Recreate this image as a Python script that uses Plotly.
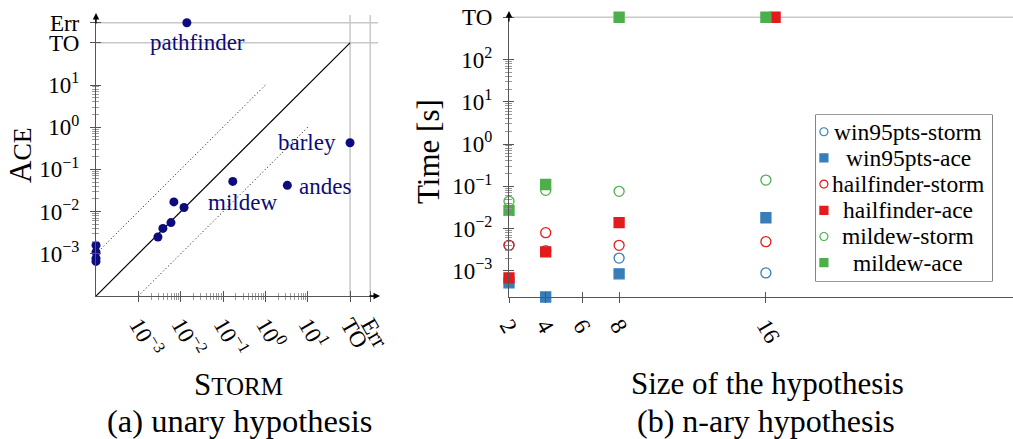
import math
import plotly.graph_objects as go

W, H = 1013, 439
FONT = "Liberation Serif"

# ---------------- (a) unary hypothesis ----------------
TO_A = 100.0     # time-out position on both axes
ERR_A = 300.0    # error position on both axes
unary_names = ["", "", "", "", "", "", "", "", "", "mildew", "andes", "barley", "pathfinder"]
unary_storm = [1e-4, 1e-4, 1e-4, 1e-4, 0.0029, 0.0038, 0.0059, 0.0069, 0.012, 0.17, 3.3, TO_A, 0.014]
unary_ace = [0.0016, 0.0011, 0.00078, 0.00066, 0.0025, 0.0040, 0.0055, 0.017, 0.0125, 0.052, 0.042, 0.43, ERR_A]
diag_x = [1e-4, TO_A]
diag_y = [1e-4, TO_A]
upper_x = [1e-4, 1e0]
upper_y = [1e-3, 1e1]
lower_x = [1e-3, 1e1]
lower_y = [1e-4, 1e0]
a_tickvals = [1e-3, 1e-2, 1e-1, 1e0, 1e1, TO_A, ERR_A]
a_ticktext = ["10<sup>−3</sup>", "10<sup>−2</sup>", "10<sup>−1</sup>", "10<sup>0</sup>",
              "10<sup>1</sup>", "TO", "Err"]

# ---------------- (b) n-ary hypothesis ----------------
TO_B = 1000.0
series_names = ["win95pts-storm", "win95pts-ace", "hailfinder-storm",
                "hailfinder-ace", "mildew-storm", "mildew-ace"]
win95pts_storm_x = [2, 4, 8, 16]
win95pts_storm_y = [0.004, 0.003, 0.002, 0.00089]
win95pts_ace_x = [2, 4, 8, 16]
win95pts_ace_y = [0.00052, 0.00024, 0.00085, 0.018]
hailfinder_storm_x = [2, 4, 8, 16]
hailfinder_storm_y = [0.004, 0.008, 0.004, 0.0049]
hailfinder_ace_x = [2, 4, 8, 16.5]
hailfinder_ace_y = [0.00068, 0.0028, 0.0138, TO_B]
mildew_storm_x = [2, 4, 8, 16]
mildew_storm_y = [0.044, 0.08, 0.076, 0.14]
mildew_ace_x = [2, 4, 8, 16]
mildew_ace_y = [0.027, 0.11, TO_B, TO_B]
b_xticks = [2, 4, 6, 8, 16]
b_tickvals = [1e-3, 1e-2, 1e-1, 1e0, 1e1, 1e2, TO_B]
b_ticktext = ["10<sup>−3</sup>", "10<sup>−2</sup>", "10<sup>−1</sup>", "10<sup>0</sup>",
              "10<sup>1</sup>", "10<sup>2</sup>", "TO"]

# ---------------- styles ----------------
NAVY = "#0c0c7e"
BLUE, RED, GREEN = "#377eb8", "#e41a1c", "#4daf4a"
AXC = "#555555"
MINC = "#9a9a9a"
GRIDC = "#c8c8c8"


def px_x(p):
    return p / W


def px_y(p):
    return 1 - p / H


def minor_vals(lo, hi):
    out = []
    for k in range(lo, hi):
        for m in range(2, 10):
            out.append(m * 10 ** k)
    return out


fig = go.Figure()

# (a) reference lines
fig.add_trace(go.Scatter(x=diag_x, y=diag_y, mode="lines", line=dict(color="black", width=1.2),
                         xaxis="x", yaxis="y", showlegend=False, hoverinfo="skip"))
for lx, ly in ((upper_x, upper_y), (lower_x, lower_y)):
    fig.add_trace(go.Scatter(x=lx, y=ly, mode="lines",
                             line=dict(color="black", width=1, dash="1px,2.5px"),
                             xaxis="x", yaxis="y", showlegend=False, hoverinfo="skip"))
fig.add_trace(go.Scatter(x=unary_storm, y=unary_ace, mode="markers",
                         marker=dict(color=NAVY, size=9), xaxis="x", yaxis="y",
                         showlegend=False, cliponaxis=False))

# (b) series
b_series = [
    (win95pts_storm_x, win95pts_storm_y, BLUE, "circle-open"),
    (win95pts_ace_x, win95pts_ace_y, BLUE, "square"),
    (hailfinder_storm_x, hailfinder_storm_y, RED, "circle-open"),
    (hailfinder_ace_x, hailfinder_ace_y, RED, "square"),
    (mildew_storm_x, mildew_storm_y, GREEN, "circle-open"),
    (mildew_ace_x, mildew_ace_y, GREEN, "square"),
]
for name, (sx, sy, col, sym) in zip(series_names, b_series):
    fig.add_trace(go.Scatter(x=sx, y=sy, mode="markers", name=name,
                             marker=dict(color=col, symbol=sym, size=10,
                                         line=dict(color=col, width=1.3)),
                             xaxis="x2", yaxis="y2", cliponaxis=False, showlegend=False))

# dummy traces for tick-crossing overlay axes
fig.add_trace(go.Scatter(x=[], y=[], xaxis="x3", yaxis="y3", showlegend=False))
fig.add_trace(go.Scatter(x=[], y=[], xaxis="x4", yaxis="y4", showlegend=False))

# custom legend (centered labels, as in the reference)
leg_idx = list(range(len(series_names)))
for i, (name, (_, _, col, sym)) in enumerate(zip(series_names, b_series)):
    fig.add_trace(go.Scatter(x=[0.045], y=[leg_idx[i]], mode="markers",
                             marker=dict(color=col, symbol=sym, size=8,
                                         line=dict(color=col, width=1.2)),
                             xaxis="x5", yaxis="y5", showlegend=False, hoverinfo="skip",
                             cliponaxis=False))
    fig.add_annotation(x=0.525, y=leg_idx[i], xref="x5", yref="y5", text=name, showarrow=False,
                       xanchor="center", yanchor="middle",
                       font=dict(family=FONT, size=23.5, color="black"))

A_XDOM = [px_x(96), px_x(378)]
A_YDOM = [px_y(296), px_y(15)]
B_XDOM = [px_x(509), 1.0]
B_YDOM = [px_y(297), px_y(13)]
A_RANGE = [-4, 2.66]
B_YRANGE = [-3.62, 3.1]
B_XRANGE = [2, 2 + 504 / 18.35]

tickfont = dict(family=FONT, size=23, color="black")

common = dict(showgrid=False, zeroline=False, automargin=False)

layout = dict(
    template="none",
    width=W, height=H, margin=dict(l=0, r=0, t=0, b=0, pad=0),
    paper_bgcolor="white", plot_bgcolor="white",
    font=dict(family=FONT, color="black"),
    showlegend=False,
    xaxis=dict(domain=A_XDOM, anchor="y", type="log", range=A_RANGE, showline=True,
               linecolor=AXC, linewidth=1.3, ticks="outside", ticklen=5, tickcolor=AXC,
               tickvals=a_tickvals, ticktext=a_ticktext, tickangle=60, tickfont=tickfont,
               minor=dict(tickvals=minor_vals(-3, 1), ticks="outside", ticklen=3, tickcolor=MINC),
               **common),
    yaxis=dict(domain=A_YDOM, anchor="x", type="log", range=A_RANGE, showline=True,
               linecolor=AXC, linewidth=1.3, ticks="outside", ticklen=5, tickcolor=AXC,
               tickvals=a_tickvals, ticktext=a_ticktext, tickfont=tickfont,
               ticklabelstandoff=6,
               minor=dict(tickvals=minor_vals(-3, 1), ticks="outside", ticklen=3, tickcolor=MINC),
               **common),
    xaxis3=dict(overlaying="x", anchor="y3", type="log", range=A_RANGE, ticks="inside", ticklen=5,
                tickcolor=AXC, tickvals=a_tickvals, showticklabels=False, showline=False,
                minor=dict(tickvals=minor_vals(-3, 1), ticks="inside", ticklen=3, tickcolor=MINC),
                **common),
    yaxis3=dict(overlaying="y", anchor="x3", type="log", range=A_RANGE, ticks="inside", ticklen=5,
                tickcolor=AXC, tickvals=a_tickvals, showticklabels=False, showline=False,
                minor=dict(tickvals=minor_vals(-3, 1), ticks="inside", ticklen=3, tickcolor=MINC),
                **common),
    xaxis2=dict(domain=B_XDOM, anchor="y2", range=B_XRANGE, showline=True,
                linecolor=AXC, linewidth=1.3, ticks="outside", ticklen=5, tickcolor=AXC,
                tickvals=b_xticks, ticktext=[str(v) for v in b_xticks], tickangle=60,
                tickfont=tickfont, **common),
    yaxis2=dict(domain=B_YDOM, anchor="x2", type="log", range=B_YRANGE, showline=True,
                linecolor=AXC, linewidth=1.3, ticks="outside", ticklen=5, tickcolor=AXC,
                tickvals=b_tickvals, ticktext=b_ticktext, tickfont=tickfont,
                ticklabelstandoff=6,
                minor=dict(tickvals=minor_vals(-3, 2), ticks="outside", ticklen=3, tickcolor=MINC),
                **common),
    xaxis4=dict(overlaying="x2", anchor="y4", range=B_XRANGE, ticks="inside", ticklen=5,
                tickcolor=AXC, tickvals=b_xticks, showticklabels=False, showline=False, **common),
    yaxis4=dict(overlaying="y2", anchor="x4", type="log", range=B_YRANGE, ticks="inside", ticklen=5,
                tickcolor=AXC, tickvals=b_tickvals, showticklabels=False, showline=False,
                minor=dict(tickvals=minor_vals(-3, 2), ticks="inside", ticklen=3, tickcolor=MINC),
                **common),
    xaxis5=dict(domain=[px_x(816), px_x(992)], anchor="y5", range=[0, 1], visible=False, **common),
    yaxis5=dict(domain=[px_y(281), px_y(115)], anchor="x5", range=[5.7, -0.64], visible=False,
                **common),
)
fig.update_layout(**layout)

# legend frame
fig.add_shape(type="rect", xref="x5 domain", yref="y5 domain", x0=0, x1=1, y0=0, y1=1,
              line=dict(color="#333333", width=1.2), fillcolor="white", layer="below")

# grid lines at TO / Err
for v in (TO_A, ERR_A):
    fig.add_shape(type="line", xref="x domain", yref="y", x0=0, x1=1, y0=v, y1=v,
                  line=dict(color=GRIDC, width=1.5), layer="below")
    fig.add_shape(type="line", xref="x", yref="y domain", x0=v, x1=v, y0=0, y1=1,
                  line=dict(color=GRIDC, width=1.5), layer="below")
fig.add_shape(type="line", xref="x2 domain", yref="y2", x0=0, x1=1, y0=TO_B, y1=TO_B,
              line=dict(color=GRIDC, width=1.5), layer="below")

# point labels (a)
label_offsets = {"mildew": (10, -21, "center"), "andes": (10, -1, "left"),
                 "barley": (-12, 0, "right"), "pathfinder": (11, -20, "center")}
for nm, sx, sy in zip(unary_names, unary_storm, unary_ace):
    if not nm:
        continue
    dx, dy, anc = label_offsets[nm]
    fig.add_annotation(x=math.log10(sx), y=math.log10(sy), xref="x", yref="y", text=nm,
                       showarrow=False, xanchor=anc, yanchor="middle", xshift=dx, yshift=dy,
                       font=dict(family=FONT, size=23, color=NAVY))


# axis arrows
def arrow(xp, yp, ax, ay):
    fig.add_annotation(x=px_x(xp), y=px_y(yp), xref="paper", yref="paper", ax=ax, ay=ay,
                       axref="pixel", ayref="pixel", text="", showarrow=True,
                       arrowhead=2, arrowsize=1, arrowwidth=1.3, arrowcolor="black")


arrow(96, 13, 0, 12)
arrow(380, 296, -12, 0)
arrow(509, 11, 0, 12)


# titles
def title(text, xp, yp, size, angle=0):
    fig.add_annotation(x=px_x(xp), y=px_y(yp), xref="paper", yref="paper", text=text,
                       showarrow=False, textangle=angle, xanchor="center", yanchor="middle",
                       font=dict(family=FONT, size=size, color="black"))


title("A<span style='font-size:26px'>CE</span>", 20, 155, 31, -90)
title("S<span style='font-size:25px'>TORM</span>", 238, 384, 31)
title("(a) unary hypothesis", 239, 421, 32.5)
title("Time [s]", 428, 152, 31, -90)
title("Size of the hypothesis", 767, 383, 31)
title("(b) n-ary hypothesis", 766, 421, 32)

fig.write_html("out.html")
